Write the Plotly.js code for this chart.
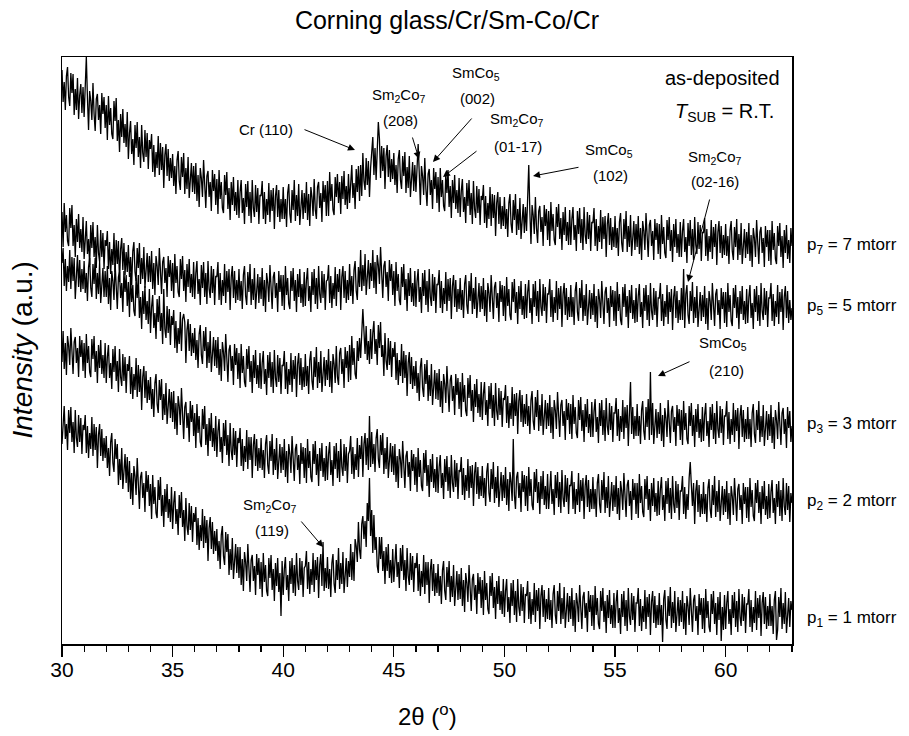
<!DOCTYPE html>
<html>
<head>
<meta charset="utf-8">
<script src="https://cdn.plot.ly/plotly-3.0.1.min.js"></script>
<style>html,body{margin:0;padding:0;background:#fff;}#chart{width:909px;height:736px;}</style>
</head>
<body>
<div id="chart"></div>
<script>
// 2-theta grid: 30.00 to 63.00 degrees, step 0.05
const thetaStart = 30, thetaStep = 0.05, thetaCount = 661;
const twoTheta = [];
for (let i = 0; i < thetaCount; i++) twoTheta.push(Math.round((thetaStart + i * thetaStep) * 100) / 100);

const seriesNames = ["p7 = 7 mtorr", "p5 = 5 mtorr", "p3 = 3 mtorr", "p2 = 2 mtorr", "p1 = 1 mtorr"];

// intensities (a.u.), curves already vertically offset as in the figure; one line per degree
const p7 = [
574,542,562,534,568,577,547,538,571,551,570,529,555,534,566,525,549,560,531,557,
527,558,587,546,514,553,543,524,561,530,513,545,550,524,539,510,551,530,547,516,
539,504,548,519,536,510,505,543,523,546,503,524,492,530,507,535,501,520,497,532,
485,511,523,490,505,479,519,496,522,487,507,476,519,491,482,514,487,511,475,504,
495,510,472,499,467,492,476,508,469,501,474,497,456,489,500,468,495,463,486,466,
490,458,478,450,484,493,463,454,487,467,491,450,476,455,487,446,470,481,452,478,
450,481,443,469,437,476,466,447,484,453,436,468,473,447,462,433,474,453,470,439,
465,430,474,445,462,436,431,469,449,472,435,456,424,462,439,467,433,452,429,464,
426,452,464,431,446,420,460,437,463,428,452,421,464,436,427,459,432,456,420,449,
448,463,425,452,420,445,429,461,422,454,433,456,415,448,459,427,454,422,445,425,
457,425,445,417,451,460,430,421,454,434,464,423,449,428,460,419,443,454,425,451,
431,462,424,450,418,457,447,428,465,434,425,457,462,436,451,422,463,442,459,428,
463,428,472,443,460,434,429,467,447,470,441,462,430,468,445,473,439,458,435,470,
441,467,479,446,461,435,475,452,478,443,479,448,491,463,454,486,459,483,447,476,
492,507,469,496,464,489,522,505,466,498,473,496,455,488,499,467,494,462,485,465,
491,459,479,451,485,494,464,455,488,468,492,451,477,456,488,447,471,482,453,479,
452,483,500,471,439,478,468,449,486,455,438,470,475,449,464,435,476,455,472,441,
467,432,476,447,464,438,433,471,451,474,437,458,426,464,441,469,435,454,431,466,
427,453,465,432,447,421,461,438,464,429,451,420,463,435,426,458,431,455,419,448,
444,459,421,448,416,441,425,457,418,450,426,449,408,441,452,420,447,415,438,418,
447,415,435,407,441,450,420,411,444,424,450,409,435,414,446,405,429,440,411,437,
413,444,479,432,400,439,429,410,447,416,401,433,438,412,427,398,439,418,435,404,
433,398,442,413,430,404,399,437,417,440,405,426,394,432,409,437,403,422,399,434,
399,425,437,404,419,393,433,410,436,401,425,394,437,409,400,432,405,429,393,422,
421,436,398,425,393,418,402,434,395,427,405,428,387,420,431,399,426,394,417,397,
428,396,416,388,422,431,401,392,425,405,433,392,418,397,429,388,412,423,394,420,
397,428,390,416,384,423,413,394,431,400,387,419,424,398,413,384,425,404,421,390,
420,385,429,400,417,391,386,424,404,427,393,414,382,420,397,425,391,410,387,422,
387,413,425,392,407,381,421,398,424,389,415,384,427,399,390,422,395,419,383,412,
411,426,388,415,383,408,392,424,385,417,397,420,379,412,423,391,418,386,409,389,
420,388,408,380,414,423,393,384,417,397,425,384,410,389,421,380,404,415,386,412,
390,421,383,409,377,416,406,387,424,393,380,412,417,391,406,377,418,397,414,383,
414,379,423,394,411,385,380,418,398,421,387,408,376,414,391,419,385,404,381,416,
398];

const p5 = [
432,397,441,412,429,403,398,436,416,439,398,419,387,425,402,430,396,415,392,427,
385,411,423,390,405,379,419,396,422,387,407,376,419,391,382,414,387,411,375,404,
398,413,375,402,370,395,379,411,372,404,380,403,362,395,406,374,401,369,392,372,
399,367,387,359,393,402,372,363,396,376,401,360,386,365,397,356,380,391,362,388,
362,393,355,381,349,388,378,359,396,365,350,382,387,361,376,347,388,367,384,353,
381,346,390,361,378,352,347,385,365,388,353,374,342,380,357,385,351,370,347,382,
345,371,383,350,365,339,379,356,382,347,371,340,383,355,346,378,351,375,339,368,
367,382,344,371,339,364,348,380,341,373,352,375,334,367,378,346,373,341,364,344,
375,343,363,335,369,378,348,339,372,352,380,339,365,344,376,335,359,370,341,367,
345,376,338,364,332,371,361,342,379,348,335,367,372,346,361,332,373,352,369,338,
369,334,378,349,366,340,335,373,353,376,343,364,332,370,347,375,341,360,337,372,
338,364,376,343,358,332,372,349,375,340,366,335,378,350,341,373,346,370,334,363,
364,379,341,368,336,361,345,377,338,370,352,375,334,367,378,346,373,341,364,344,
380,348,368,340,374,383,353,344,377,357,394,353,379,358,390,349,373,384,355,381,
363,394,356,382,350,389,379,360,397,366,346,378,383,357,372,343,384,363,380,349,
373,338,382,353,370,344,339,377,357,380,344,365,333,371,348,376,342,361,338,373,
337,363,375,342,357,331,371,348,374,339,363,332,375,347,338,370,343,367,331,360,
359,374,336,363,331,356,340,372,333,365,343,366,325,358,369,337,364,332,355,335,
366,334,354,326,360,369,339,330,363,343,371,330,356,335,367,326,350,361,332,358,
335,366,328,354,322,361,351,332,369,338,325,357,362,336,351,322,363,342,359,328,
358,323,367,338,355,329,324,362,342,365,331,352,320,358,335,363,329,348,325,360,
326,352,364,331,346,320,360,337,363,328,353,322,365,337,328,360,333,357,321,350,
350,365,327,354,322,347,331,363,324,356,335,358,317,350,361,329,356,324,347,327,
359,327,347,319,353,362,332,323,356,336,364,323,349,328,360,319,343,354,325,351,
329,360,322,348,316,355,345,326,363,332,320,352,357,331,346,317,358,337,354,323,
353,318,362,333,350,324,319,357,337,360,327,348,316,354,331,359,325,344,321,356,
322,348,360,327,342,316,356,333,359,324,349,318,361,333,324,356,329,353,317,346,
346,361,323,350,318,343,327,359,320,352,332,355,314,347,358,326,353,321,344,324,
356,324,375,316,350,359,329,320,353,333,362,321,347,326,358,317,341,352,323,349,
327,358,320,346,314,353,343,324,361,330,318,350,355,329,344,315,356,335,352,321,
352,317,361,332,349,323,318,356,336,359,326,347,315,353,330,358,324,343,320,355,
321,347,359,326,341,315,355,332,358,323,349,318,361,333,324,356,329,353,317,346,
346,361,323,350,318,343,327,359,320,352,332,355,314,347,358,326,353,321,344,324,
336];

const p3 = [
381,396,358,385,353,378,362,394,355,387,363,386,345,378,389,357,384,352,375,355,
383,351,371,343,377,386,356,347,380,360,386,345,371,350,382,341,365,376,347,373,
347,378,340,366,334,373,363,344,381,350,335,367,372,346,361,332,373,352,369,338,
362,327,371,342,359,333,328,366,346,369,326,347,315,353,330,358,324,343,320,355,
311,337,349,316,331,305,345,322,348,313,331,300,355,315,306,338,311,335,299,328,
319,334,296,323,291,316,300,332,293,325,330,322,281,314,325,293,320,288,311,291,
316,284,304,276,310,319,289,280,313,293,317,276,302,281,313,272,296,307,278,304,
276,307,269,295,263,302,292,273,310,279,262,294,299,273,288,259,300,279,296,265,
291,256,300,271,288,262,257,295,275,298,262,283,251,289,266,294,260,279,256,291,
255,281,293,260,275,249,289,266,292,257,282,251,294,266,257,289,262,286,250,279,
278,293,255,282,250,275,259,291,252,284,265,288,247,280,291,259,286,254,277,257,
290,258,278,250,284,293,263,254,287,267,297,256,282,261,293,252,276,287,258,284,
264,295,257,283,251,290,280,261,298,267,259,291,296,270,285,256,297,276,293,262,
299,264,308,279,296,270,265,303,283,306,286,307,335,313,290,318,284,303,280,315,
285,311,323,290,305,279,319,296,322,287,299,268,311,283,274,306,279,303,267,296,
287,302,264,291,259,284,268,300,261,293,266,289,248,281,292,260,287,255,278,258,
283,251,271,243,277,286,256,247,280,260,284,243,269,248,280,239,263,274,245,271,
244,275,237,263,231,270,260,241,278,247,232,264,269,243,258,229,270,249,266,235,
262,227,271,242,259,233,228,266,246,269,233,254,222,260,237,265,231,250,227,262,
224,250,262,229,244,218,258,235,261,226,249,218,261,233,224,256,229,253,217,246,
244,259,221,248,216,241,225,257,218,250,228,251,210,243,254,222,249,217,240,220,
250,218,238,210,244,253,223,214,247,227,254,213,239,218,250,209,233,244,215,241,
218,249,211,237,205,244,234,215,252,221,207,239,244,218,233,204,245,224,241,210,
240,205,249,220,237,211,206,244,224,247,213,234,202,240,217,245,211,230,207,242,
207,233,245,212,227,201,241,218,244,209,234,203,246,218,209,241,214,238,202,231,
231,246,208,235,203,228,212,244,205,237,216,239,198,231,262,210,237,205,228,208,
240,208,228,200,234,243,213,204,237,217,245,204,272,209,241,200,224,235,206,232,
210,241,203,229,197,236,226,207,244,213,201,233,238,212,227,198,239,218,235,204,
234,199,243,214,231,205,200,238,218,241,208,229,197,235,212,240,206,225,202,237,
203,229,241,208,223,197,237,214,240,205,231,200,243,215,206,238,211,235,199,228,
228,243,205,232,200,225,209,241,202,234,213,236,195,228,239,207,234,202,225,205,
237,205,225,197,231,240,210,201,234,214,243,202,228,207,239,198,222,233,204,230,
208,239,201,227,195,234,224,205,242,211,199,231,236,210,225,196,237,216,233,202,
218];

const p2 = [
282,313,275,301,269,308,298,279,316,285,270,302,307,281,296,267,308,287,304,273,
301,266,310,281,298,272,267,305,285,308,272,293,261,299,276,304,270,289,266,301,
261,287,299,266,281,255,295,272,298,263,283,252,295,267,258,290,263,287,251,280,
273,288,250,277,245,270,254,286,247,279,252,275,234,267,278,246,273,241,264,244,
267,235,255,227,261,270,240,231,264,244,265,224,250,229,261,220,244,255,226,252,
222,253,215,241,209,248,238,219,256,225,205,237,242,216,231,202,243,222,239,208,
231,196,240,211,228,202,197,235,215,238,199,220,188,226,203,231,197,216,193,228,
187,213,225,192,207,181,221,198,224,189,209,178,221,193,184,216,189,213,177,206,
201,216,178,205,173,198,182,214,175,207,184,207,166,199,210,178,205,173,196,176,
206,174,194,166,200,209,179,170,203,183,210,169,195,174,206,165,189,200,171,197,
174,205,167,193,161,200,190,171,208,177,163,195,200,174,189,160,201,180,197,166,
196,161,205,176,193,167,162,200,180,203,169,190,158,196,173,201,167,186,163,198,
164,190,202,169,184,158,198,175,201,166,193,162,205,177,168,200,173,197,161,190,
193,208,170,197,165,190,174,206,167,199,185,208,167,200,211,179,206,174,228,177,
212,180,200,172,206,215,185,176,209,189,211,170,196,175,207,166,190,201,172,198,
169,200,162,188,156,195,185,166,203,172,156,188,193,167,182,153,194,173,190,159,
187,152,196,167,184,158,153,191,171,194,158,179,147,185,162,190,156,175,152,187,
151,177,189,156,171,145,185,162,188,153,177,146,189,161,152,184,157,181,145,174,
172,187,149,176,144,169,153,185,146,178,156,179,138,171,182,150,177,145,168,148,
178,146,166,138,172,181,151,142,175,155,182,141,167,146,178,137,161,172,143,169,
146,177,139,165,133,172,162,143,205,149,135,167,172,146,161,132,173,152,169,138,
168,133,177,148,165,139,134,172,152,175,141,162,130,168,145,173,139,158,135,170,
135,161,173,140,155,129,169,146,172,137,162,131,174,146,137,169,142,166,130,159,
158,173,135,162,130,155,139,171,132,164,143,166,125,158,169,137,164,132,155,135,
167,135,155,127,161,170,140,131,164,144,172,131,157,136,168,127,151,162,133,159,
137,168,130,156,124,163,153,134,171,140,127,159,164,138,153,124,165,144,161,130,
161,126,170,141,158,132,127,165,145,168,134,155,123,161,138,166,132,151,128,163,
129,155,167,134,149,123,163,140,166,131,156,125,168,140,131,163,136,160,124,153,
153,168,130,157,125,150,134,166,182,159,138,161,120,153,164,132,159,127,150,130,
162,130,150,122,156,165,135,126,159,139,168,127,153,132,164,123,147,158,129,155,
132,163,125,151,119,158,148,129,166,135,123,155,160,134,149,120,161,140,157,126,
157,122,166,137,154,128,123,161,141,164,131,152,120,158,135,163,129,148,125,160,
126,152,164,131,146,120,160,137,163,128,154,123,166,138,129,161,134,158,122,151,
141];

const p1 = [
200,226,238,205,220,194,234,211,237,202,222,191,234,206,197,229,202,226,190,219,
214,229,191,218,186,211,195,227,188,220,194,217,176,209,220,188,215,183,206,186,
208,176,196,168,202,211,181,172,205,185,200,159,185,164,196,155,179,190,161,187,
152,183,145,171,139,178,168,149,186,155,135,167,172,146,161,132,173,152,169,138,
160,125,169,140,157,131,126,164,144,167,128,149,117,155,132,160,126,145,122,157,
115,141,153,120,135,109,149,126,152,117,134,103,146,118,109,141,114,138,102,131,
122,137,99,126,94,119,103,135,96,128,101,124,83,116,127,95,122,90,113,93,
115,83,103,75,109,118,88,79,112,92,110,69,95,74,106,65,89,100,71,97,
66,97,59,85,53,92,82,63,100,69,52,84,89,63,78,49,90,69,86,55,
82,47,91,62,79,53,48,86,66,89,54,75,43,81,58,86,52,71,28,83,
49,75,87,54,69,43,83,60,86,51,79,48,91,63,54,86,59,83,47,76,
78,93,55,82,50,75,59,91,52,84,64,87,46,79,90,58,102,53,76,56,
87,55,75,47,81,90,60,51,84,64,96,55,81,60,92,51,75,86,57,83,
67,100,64,92,63,105,98,82,122,94,85,120,128,105,123,97,141,123,166,108,
134,91,129,94,107,78,71,107,85,107,73,93,60,97,73,100,66,84,61,95,
62,88,100,67,82,56,96,73,99,64,84,53,96,68,59,91,64,88,52,81,
76,91,53,80,48,73,57,89,50,82,59,82,41,74,85,53,80,48,71,51,
80,48,68,40,74,83,53,44,77,57,83,42,68,47,79,38,62,73,44,70,
45,76,38,64,32,71,61,42,79,48,33,65,70,44,59,30,71,50,67,36,
64,29,73,44,61,35,30,68,48,71,36,57,25,63,40,68,34,53,30,65,
27,53,65,32,47,21,61,38,64,29,53,22,65,37,28,60,33,57,21,50,
48,63,25,52,20,45,29,61,22,54,33,56,15,48,59,27,54,22,45,25,
56,24,44,16,50,59,29,20,53,33,61,20,46,25,57,16,40,51,22,48,
25,56,18,44,12,51,41,22,59,28,15,47,52,26,41,12,53,32,49,18,
49,14,58,29,46,20,15,53,33,56,22,43,11,49,26,54,20,39,16,51,
16,42,54,21,36,10,50,27,53,18,44,13,56,28,19,51,24,48,12,41,
41,56,18,45,13,38,22,54,15,47,27,50,9,42,53,21,48,16,39,19,
51,19,39,2,45,54,24,15,48,28,57,16,42,21,53,12,36,47,18,44,
22,53,15,41,9,48,38,19,56,25,12,44,49,23,38,9,50,29,46,15,
46,11,55,26,43,17,12,50,30,53,20,41,9,47,24,52,3,37,14,49,
15,41,53,20,35,9,49,26,52,17,43,12,55,27,18,50,23,47,11,40,
40,55,17,44,12,37,21,53,14,46,26,49,8,41,52,20,47,15,38,18,
50,18,38,10,44,53,4,14,47,27,56,15,41,20,52,11,35,46,17,43,
34];

const seriesValues = [p7, p5, p3, p2, p1];
const xTickVals = [30, 35, 40, 45, 50, 55, 60];
const xTickText = ["30", "35", "40", "45", "50", "55", "60"];

const FONT = "Liberation Sans, Arial, sans-serif";

const traces = seriesValues.map((vals, k) => ({
  x: twoTheta, y: vals, type: "scatter", mode: "lines", name: seriesNames[k],
  line: {color: "#000000", width: 1.3}, hoverinfo: "skip"
}));

// plot-area geometry (pixels) used only to place text and arrows
const L = 62, R = 792, T = 57, B = 644;
const px2x = px => 30 + (px - L) * 33 / (R - L);
const py2y = py => (B - py);
const px2paper = px => (px - L) / (R - L);
const py2paper = py => (B - py) / (B - T);

function label(px, py, txt, size, anchor) {
  return {x: px2paper(px), y: py2paper(py), xref: "paper", yref: "paper", text: txt, showarrow: false,
    xanchor: anchor || "center", yanchor: "middle", font: {family: FONT, size: size, color: "#000"}};
}
function arrow(tx, ty, hx, hy) {
  return {x: px2x(hx), y: py2y(hy), ax: px2x(tx), ay: py2y(ty), xref: "x", yref: "y", axref: "x", ayref: "y",
    text: "", showarrow: true, arrowhead: 2, arrowsize: 1.4, arrowwidth: 1, arrowcolor: "#000", standoff: 0, startstandoff: 0};
}

const AF = 15;
const ann = [
  label(266, 129, "Cr (110)", AF), arrow(303, 129, 355, 150),
  label(399, 95, "Sm<sub>2</sub>Co<sub>7</sub>", AF), label(400, 121, "(208)", AF), arrow(412, 136, 419, 159),
  label(476, 73, "SmCo<sub>5</sub>", AF), label(477, 98, "(002)", AF), arrow(473, 117, 433, 162),
  label(517, 120, "Sm<sub>2</sub>Co<sub>7</sub>", AF), label(518, 146, "(01-17)", AF), arrow(478, 150, 443, 177),
  label(609, 150, "SmCo<sub>5</sub>", AF), label(610, 175, "(102)", AF), arrow(580, 167, 533, 176),
  label(715, 157, "Sm<sub>2</sub>Co<sub>7</sub>", AF), label(715, 181, "(02-16)", AF), arrow(710, 198, 688, 282),
  label(723, 343, "SmCo<sub>5</sub>", AF), label(726, 370, "(210)", AF), arrow(691, 361, 658, 376),
  label(270, 505, "Sm<sub>2</sub>Co<sub>7</sub>", AF), label(272, 530, "(119)", AF), arrow(300, 520, 323, 547),
  label(782, 78, "as-deposited", 20, "right"),
  label(776, 113, "<i>T</i><sub>SUB</sub> = R.T.", 20, "right"),
  label(805, 246, "p<sub>7</sub> = 7 mtorr", 17, "left"),
  label(805, 307, "p<sub>5</sub> = 5 mtorr", 17, "left"),
  label(805, 425, "p<sub>3</sub> = 3 mtorr", 17, "left"),
  label(805, 502, "p<sub>2</sub> = 2 mtorr", 17, "left"),
  label(805, 619, "p<sub>1</sub> = 1 mtorr", 17, "left"),
  {x: px2paper(22), y: 0.5, xref: "paper", yref: "paper", text: "<i>Intensity</i> (a.u.)", textangle: -90,
    showarrow: false, xanchor: "center", yanchor: "middle", font: {family: FONT, size: 28, color: "#000"}},
  {x: 0.5, y: py2paper(715), xref: "paper", yref: "paper", text: "2θ (<sup>o</sup>)",
    showarrow: false, xanchor: "center", yanchor: "middle", font: {family: FONT, size: 24, color: "#000"}}
];

const layout = {
  width: 909, height: 736,
  margin: {l: L, r: 909 - R, t: T, b: 736 - B},
  paper_bgcolor: "#fff", plot_bgcolor: "#fff",
  showlegend: false,
  title: {text: "Corning glass/Cr/Sm-Co/Cr", x: 447 / 909, xanchor: "center", y: 1 - 20 / 736, yanchor: "middle",
    font: {family: FONT, size: 25, color: "#000"}},
  xaxis: {range: [30, 63], showgrid: false, zeroline: false, showline: true, mirror: true, linecolor: "#000", linewidth: 1.5,
    ticks: "outside", ticklen: 11, tickwidth: 1.3, tickcolor: "#000", tickvals: xTickVals, ticktext: xTickText,
    ticklabelstandoff: -5,
    tickfont: {family: FONT, size: 21, color: "#000"},
    minor: {dtick: 1, tick0: 30, ticks: "outside", ticklen: 6, tickwidth: 1.2, tickcolor: "#000", showgrid: false}},
  yaxis: {range: [0, B - T], showgrid: false, zeroline: false, showline: true, mirror: true, linecolor: "#000", linewidth: 1.5,
    ticks: "", showticklabels: false},
  annotations: ann
};

Plotly.newPlot("chart", traces, layout, {staticPlot: true, displayModeBar: false});
</script>
</body>
</html>
